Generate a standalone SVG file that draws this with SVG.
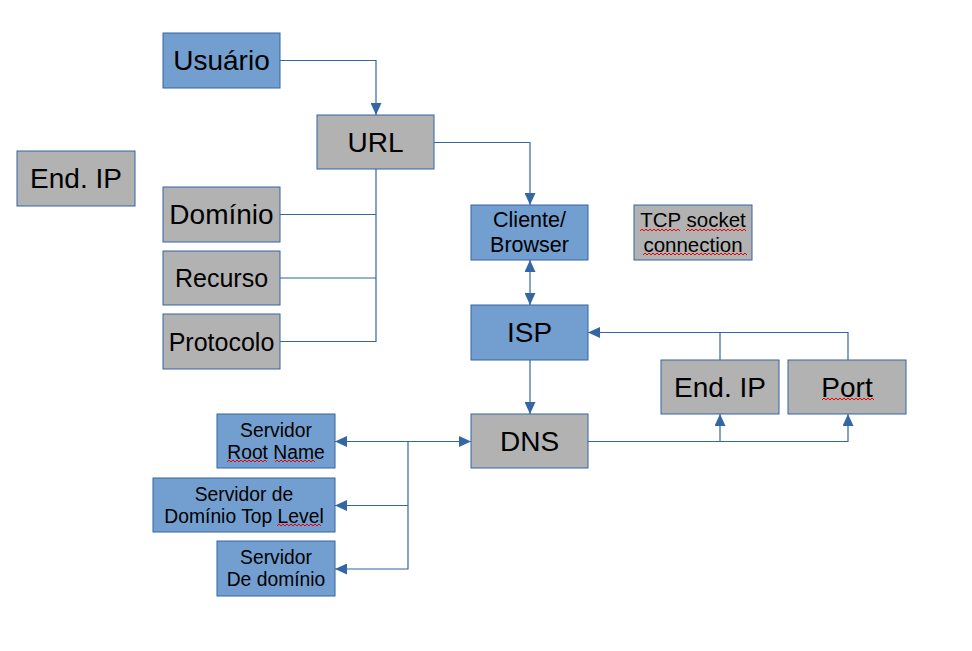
<svg xmlns="http://www.w3.org/2000/svg" width="972" height="651" viewBox="0 0 972 651">
<style>
.blue{fill:#729fcf;stroke:#3465a4;stroke-width:1}
.gray{fill:#b2b2b2;stroke:#3465a4;stroke-width:1}
text{font-family:"Liberation Sans",Arial,sans-serif;fill:#000;text-anchor:middle}
.c{fill:none;stroke:#3465a4;stroke-width:1.2}
.sq{fill:none;stroke:#e00;stroke-width:1}
</style>
<defs>
<marker id="a" viewBox="0 0 12 11" refX="12" refY="5.5" markerWidth="12" markerHeight="11" markerUnits="userSpaceOnUse" orient="auto-start-reverse">
<path d="M0,0 L12,5.5 L0,11 Z" fill="#3465a4"/>
</marker>
</defs>
<rect width="972" height="651" fill="#fff"/>
<g id="connectors">
<path class="c" d="M280,60.5 H376 V115" marker-end="url(#a)"/>
<path class="c" d="M434,142.5 H530 V205" marker-end="url(#a)"/>
<path class="c" d="M376,169 V341.5 H280 M376,214.5 H280 M376,278 H280"/>
<path class="c" d="M530,260 V305" marker-start="url(#a)" marker-end="url(#a)"/>
<path class="c" d="M530,360 V414" marker-end="url(#a)"/>
<path class="c" d="M720,360 V332.5 H588" marker-end="url(#a)"/>
<path class="c" d="M848,360 V332.5 H720"/>
<path class="c" d="M588,441.5 H720 V414" marker-end="url(#a)"/>
<path class="c" d="M720,441.5 H848 V414" marker-end="url(#a)"/>
<path class="c" d="M408,441.5 H471" marker-end="url(#a)"/>
<path class="c" d="M408,441.5 H335" marker-end="url(#a)"/>
<path class="c" d="M408,441.5 V569 H335" marker-end="url(#a)"/>
<path class="c" d="M408,505.5 H335" marker-end="url(#a)"/>
</g>
<g id="usuario"><rect class="blue" x="163" y="33" width="117" height="55"/><text x="221.5" y="70" font-size="28">Usuário</text></g>
<g id="url"><rect class="gray" x="317" y="115" width="117" height="54"/><text x="375.5" y="152" font-size="28">URL</text></g>
<g id="endip-left"><rect class="gray" x="17" y="151" width="118" height="55"/><text x="76" y="188" font-size="28">End. IP</text></g>
<g id="dominio"><rect class="gray" x="163" y="187" width="117" height="55"/><text x="221.5" y="224" font-size="28">Domínio</text></g>
<g id="recurso"><rect class="gray" x="163" y="251" width="117" height="54"/><text x="221.5" y="287" font-size="25">Recurso</text></g>
<g id="protocolo"><rect class="gray" x="163" y="314" width="117" height="55"/><text x="221.5" y="350.5" font-size="25">Protocolo</text></g>
<g id="cliente"><rect class="blue" x="471" y="205" width="117" height="55"/><text x="529.5" y="227" font-size="21.5">Cliente/</text><text x="529.5" y="252" font-size="21.5">Browser</text></g>
<g id="tcp"><rect class="gray" x="634" y="205" width="118" height="55"/><text x="693" y="227" font-size="20.5">TCP socket</text><text x="693" y="252" font-size="20.5">connection</text>
<path class="sq" d="M640,231 l2,-2 l2,2 l2,-2 l2,2 l2,-2 l2,2 l2,-2 l2,2 l2,-2 l2,2 l2,-2 l2,2 l2,-2 l2,2 l2,-2 l2,2 l2,-2 l2,2 l2,-2 l2,2 M686,231 l2,-2 l2,2 l2,-2 l2,2 l2,-2 l2,2 l2,-2 l2,2 l2,-2 l2,2 l2,-2 l2,2 l2,-2 l2,2 l2,-2 l2,2 l2,-2 l2,2 l2,-2 l2,2 l2,-2 l2,2 l2,-2 l2,2 l2,-2 l2,2 l2,-2 l2,2 l2,-2 l2,2 M643,255 l2,-2 l2,2 l2,-2 l2,2 l2,-2 l2,2 l2,-2 l2,2 l2,-2 l2,2 l2,-2 l2,2 l2,-2 l2,2 l2,-2 l2,2 l2,-2 l2,2 l2,-2 l2,2 l2,-2 l2,2 l2,-2 l2,2 l2,-2 l2,2 l2,-2 l2,2 l2,-2 l2,2 l2,-2 l2,2 l2,-2 l2,2 l2,-2 l2,2 l2,-2 l2,2 l2,-2 l2,2 l2,-2 l2,2 l2,-2 l2,2 l2,-2 l2,2 l2,-2 l2,2 l2,-2 l2,2 l2,-2 l2,2"/></g>
<g id="isp"><rect class="blue" x="471" y="305" width="117" height="55"/><text x="529.5" y="342" font-size="28">ISP</text></g>
<g id="endip-right"><rect class="gray" x="661" y="360" width="118" height="54"/><text x="720" y="396.5" font-size="28">End. IP</text></g>
<g id="port"><rect class="gray" x="788" y="360" width="118" height="54"/><text x="847" y="396.5" font-size="28">Port</text>
<path class="sq" d="M822,400 l2,-2 l2,2 l2,-2 l2,2 l2,-2 l2,2 l2,-2 l2,2 l2,-2 l2,2 l2,-2 l2,2 l2,-2 l2,2 l2,-2 l2,2 l2,-2 l2,2 l2,-2 l2,2 l2,-2 l2,2 l2,-2 l2,2 l2,-2 l2,2"/></g>
<g id="dns"><rect class="gray" x="471" y="414" width="117" height="54"/><text x="529.5" y="451" font-size="28">DNS</text></g>
<g id="root"><rect class="blue" x="217" y="414" width="118" height="54"/><text x="276" y="437" font-size="19.3">Servidor</text><text x="276" y="459" font-size="19.3">Root Name</text>
<path class="sq" d="M227,462 l2,-2 l2,2 l2,-2 l2,2 l2,-2 l2,2 l2,-2 l2,2 l2,-2 l2,2 l2,-2 l2,2 l2,-2 l2,2 l2,-2 l2,2 l2,-2 l2,2 l2,-2 l2,2 M275,462 l2,-2 l2,2 l2,-2 l2,2 l2,-2 l2,2 l2,-2 l2,2 l2,-2 l2,2 l2,-2 l2,2 l2,-2 l2,2 l2,-2 l2,2 l2,-2 l2,2 l2,-2 l2,2"/></g>
<g id="toplevel"><rect class="blue" x="153" y="478" width="182" height="54"/><text x="244" y="501" font-size="19.3">Servidor de</text><text x="244" y="523" font-size="19.3">Domínio Top Level</text>
<path class="sq" d="M277,526 l2,-2 l2,2 l2,-2 l2,2 l2,-2 l2,2 l2,-2 l2,2 l2,-2 l2,2 l2,-2 l2,2 l2,-2 l2,2 l2,-2 l2,2 l2,-2 l2,2 l2,-2 l2,2 l2,-2 l2,2"/></g>
<g id="dedominio"><rect class="blue" x="217" y="541" width="118" height="55"/><text x="276" y="564" font-size="19.3">Servidor</text><text x="276" y="586" font-size="19.3">De domínio</text></g>
</svg>
